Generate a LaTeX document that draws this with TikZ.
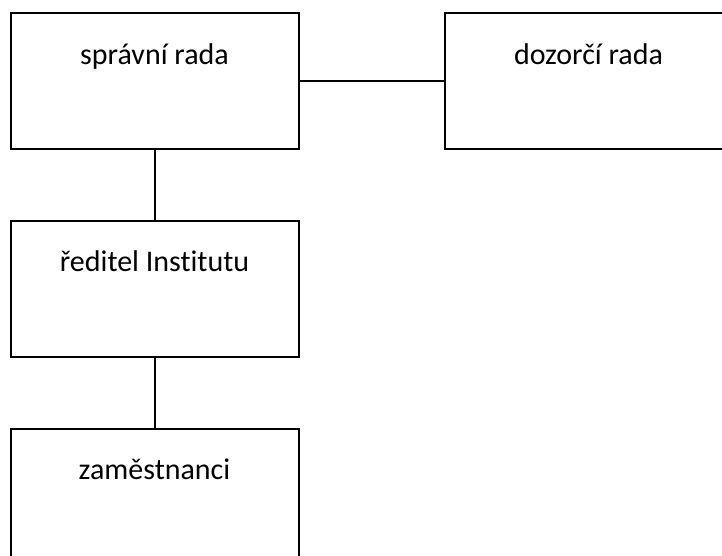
\documentclass[tikz,border=0pt]{standalone}
\usepackage{fontspec}
\setmainfont{Carlito}[Ligatures=NoCommon]
\usepackage{tikz}

\begin{document}
\begin{tikzpicture}[x=1pt, y=-1pt,
    box/.style={draw, black, line width=2pt, anchor=north west,
        minimum width=288pt, inner xsep=0pt, inner ysep=0pt,
        text height=51pt, text depth=85pt,
        font=\fontsize{30}{36}\selectfont}]
            \clip (0,0) rectangle (722,556);
            \fill[white] (0,0) rectangle (722,556);
            \node[box] (spravni) at (9.5,12.5) {správní rada};
            \node[box] (dozorci) at (443.5,12.5) {dozorčí rada};
            \node[box] (reditel) at (9.5,219.5) {ředitel Institutu};
            \node[box] (zamestnanci) at (9.5,427.5) {zaměstnanci};

            \draw[line width=2pt] (spravni.east) -- (dozorci.west);
            \draw[line width=2pt] (spravni.south) -- (reditel.north);
            \draw[line width=2pt] (reditel.south) -- (zamestnanci.north);
        \end{tikzpicture}
\end{document}
